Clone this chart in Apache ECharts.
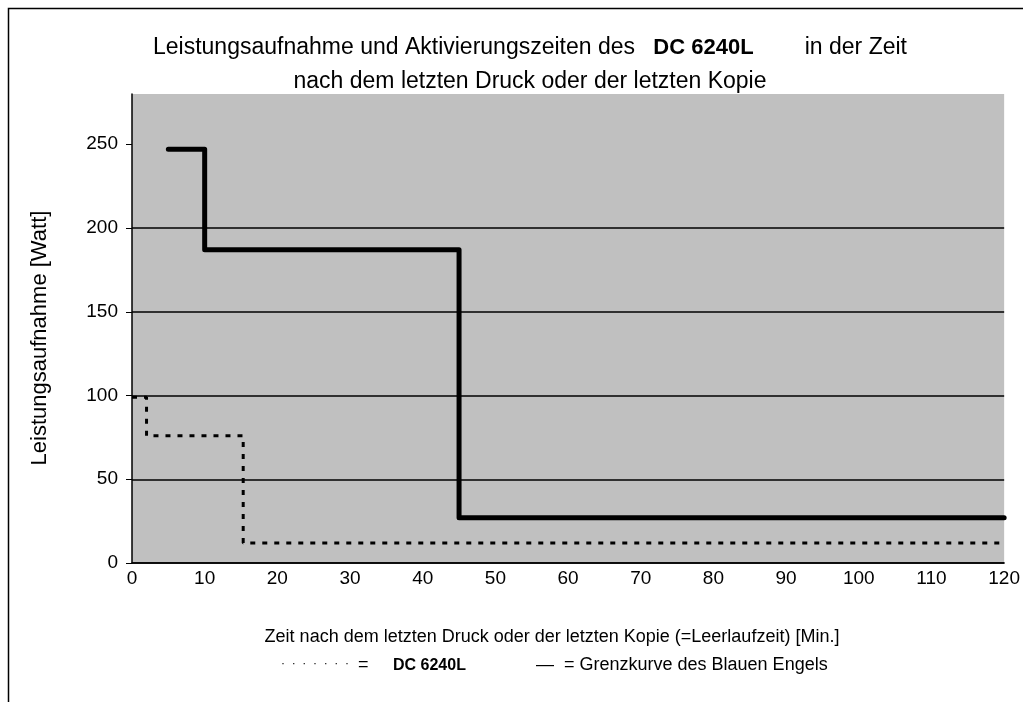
<!DOCTYPE html>
<html>
<head>
<meta charset="utf-8">
<script src="https://cdn.jsdelivr.net/npm/echarts@6/dist/echarts.min.js"></script>
<style>
  html, body { margin: 0; padding: 0; background: #fff; }
  #main { width: 1023px; height: 702px; }
</style>
</head>
<body>
<div id="main"></div>
<script>
// Grenzkurve (Blauer Engel): [Minuten, Watt]
var grenzX = [5, 10, 45, 120];
var grenzY = [247, 187, 27, 27];
// DC 6240L gemessen
var dcX = [0, 2, 15.3, 120];
var dcY = [99, 76, 12, 12];
var yTicks = [0, 50, 100, 150, 200, 250];

function pairs(xs, ys) {
  var out = [];
  for (var i = 0; i < xs.length; i++) out.push([xs[i], ys[i]]);
  return out;
}

var font = '"Liberation Sans", Arial, sans-serif';
var chart = echarts.init(document.getElementById('main'));

var option = {
  backgroundColor: '#fff',
  animation: false,
  title: {
    text: '{n|Leistungsaufnahme und Aktivierungszeiten des}{b|   DC 6240L}{n|        in der Zeit}\n{n|nach dem letzten Druck oder der letzten Kopie}',
    left: 525,
    top: 26,
    textAlign: 'center',
    textStyle: {
      rich: {
        n: { fontFamily: font, fontSize: 23, fontWeight: 'normal', color: '#000', lineHeight: 34 },
        b: { fontFamily: font, fontSize: 22, fontWeight: 'bold', color: '#000', lineHeight: 34 }
      }
    }
  },
  grid: { left: 132, top: 94, right: 18, bottom: 139, backgroundColor: '#c0c0c0', show: true, borderWidth: 0 },
  xAxis: {
    type: 'value',
    min: 0, max: 120, interval: 10,
    axisLine: { show: true, lineStyle: { color: '#000', width: 1.5 } },
    axisTick: { show: false },
    splitLine: { show: false },
    axisLabel: { color: '#000', fontSize: 19, fontFamily: font, margin: 6 }
  },
  yAxis: {
    type: 'value',
    min: 0, max: 280, interval: 50,
    axisLine: { show: true, lineStyle: { color: '#000', width: 1.5 } },
    axisTick: { show: true, length: 6, customValues: yTicks, lineStyle: { color: '#000' } },
    splitLine: { show: true, showMaxLine: false, lineStyle: { color: '#000', width: 1.5 } },
    axisLabel: { color: '#000', fontSize: 19, fontFamily: font, margin: 14, customValues: yTicks }
  },
  series: [
    {
      name: 'DC 6240L',
      type: 'line',
      step: 'end',
      symbol: 'none',
      data: pairs(dcX, dcY),
      lineStyle: { color: '#000', width: 3, type: [5, 7] },
      z: 3
    },
    {
      name: 'Grenzkurve des Blauen Engels',
      type: 'line',
      step: 'end',
      symbol: 'none',
      data: pairs(grenzX, grenzY),
      lineStyle: { color: '#000', width: 5, cap: 'round', join: 'round' },
      z: 4
    }
  ],
  graphic: [
    {
      type: 'rect',
      shape: { x: 8.5, y: 8.5, width: 1100, height: 800 },
      style: { fill: 'none', stroke: '#000', lineWidth: 1.5 },
      silent: true
    },
    {
      type: 'text',
      x: 40, y: 338,
      rotation: Math.PI / 2,
      style: {
        text: 'Leistungsaufnahme [Watt]',
        font: '22px ' + font, fill: '#000', align: 'center', verticalAlign: 'middle'
      }
    },
    {
      type: 'text',
      x: 552, y: 637,
      style: {
        text: 'Zeit nach dem letzten Druck oder der letzten Kopie (=Leerlaufzeit) [Min.]',
        font: '18px ' + font, fill: '#000', align: 'center', verticalAlign: 'middle'
      }
    },
    {
      type: 'text',
      x: 281, y: 664,
      style: { text: '·  ·  ·  ·  ·  ·  ·', font: '12px ' + font, fill: '#000', verticalAlign: 'middle' }
    },
    {
      type: 'text',
      x: 358, y: 665,
      style: { text: '=', font: '18px ' + font, fill: '#000', verticalAlign: 'middle' }
    },
    {
      type: 'text',
      x: 393, y: 666,
      style: { text: 'DC 6240L', font: 'bold 16px ' + font, fill: '#000', verticalAlign: 'middle' }
    },
    {
      type: 'text',
      x: 536, y: 665,
      style: { text: '—  = Grenzkurve des Blauen Engels', font: '18px ' + font, fill: '#000', verticalAlign: 'middle' }
    }
  ]
};

chart.setOption(option);
</script>
</body>
</html>
